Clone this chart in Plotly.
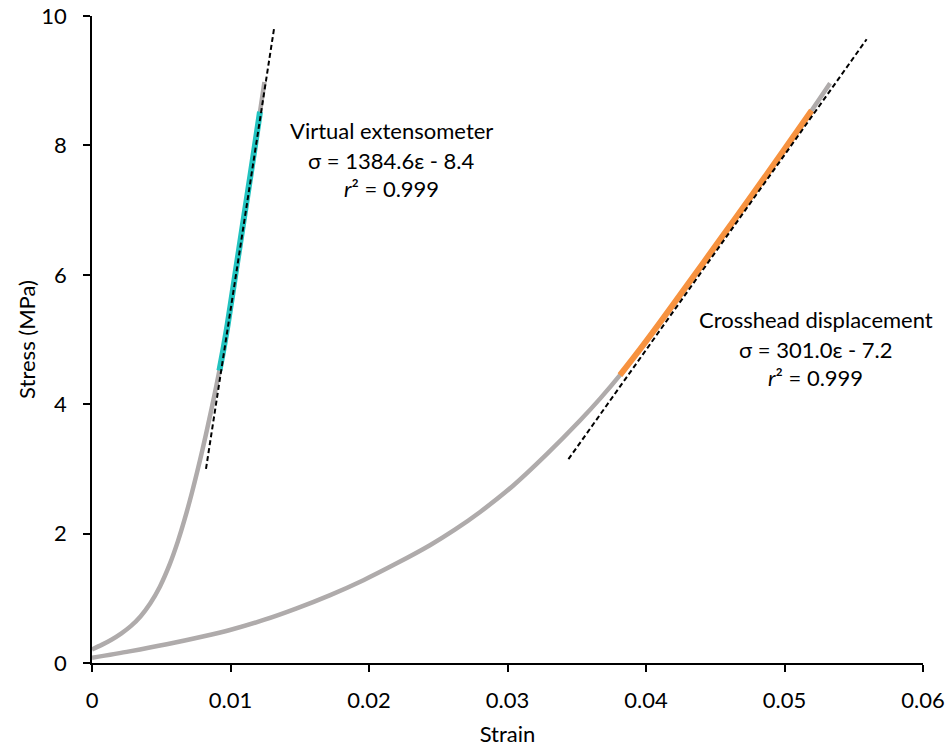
import plotly.graph_objects as go

# Virtual extensometer curve (strain, stress MPa)
ve_strain = [0, 0.0007, 0.0014, 0.0021, 0.0028, 0.0035, 0.0042, 0.0049, 0.0056, 0.0062,
             0.0067, 0.0072, 0.0076, 0.0080, 0.0084, 0.0088, 0.0092, 0.0095, 0.0098, 0.0104,
             0.0110, 0.0116, 0.01213, 0.01245]
ve_stress = [0.21, 0.28, 0.36, 0.455, 0.57, 0.72, 0.92, 1.18, 1.52, 1.88,
             2.23, 2.62, 2.96, 3.32, 3.70, 4.10, 4.52, 4.86, 5.24, 6.08,
             6.92, 7.76, 8.52, 8.98]
# linear (fitted) region of the virtual extensometer curve
ve_fit_strain = [0.0092, 0.0095, 0.0098, 0.0104, 0.0110, 0.0116, 0.01213]
ve_fit_stress = [4.52, 4.86, 5.24, 6.08, 6.92, 7.76, 8.52]
# trendline sigma = 1384.6 eps - 8.4
ve_trend_strain = [0.00823, 0.01314]
ve_trend_stress = [3.0, 9.8]

# Crosshead displacement curve
ch_strain = [0, 0.0027, 0.0054, 0.0080, 0.00996, 0.0124, 0.01478, 0.0172, 0.0196, 0.0220,
             0.0244, 0.0262, 0.0280, 0.0304, 0.0328, 0.0352, 0.0367, 0.03812, 0.0395, 0.0410,
             0.04294, 0.0454, 0.04775, 0.0500, 0.05196, 0.05329]
ch_stress = [0.08, 0.18, 0.29, 0.41, 0.51, 0.665, 0.845, 1.05, 1.28, 1.54,
             1.82, 2.06, 2.33, 2.74, 3.22, 3.74, 4.09, 4.45, 4.83, 5.26,
             5.83, 6.56, 7.26, 7.94, 8.54, 8.96]
ch_fit_strain = [0.03812, 0.0395, 0.0410, 0.04294, 0.0454, 0.04775, 0.0500, 0.05196]
ch_fit_stress = [4.45, 4.83, 5.26, 5.83, 6.56, 7.26, 7.94, 8.54]
# trendline sigma = 301.0 eps - 7.2
ch_trend_strain = [0.0344, 0.05593]
ch_trend_stress = [3.15, 9.64]

x_ticks = [0, 0.01, 0.02, 0.03, 0.04, 0.05, 0.06]
x_ticklabels = ["0", "0.01", "0.02", "0.03", "0.04", "0.05", "0.06"]
y_ticks = [0, 2, 4, 6, 8, 10]
y_ticklabels = ["0", "2", "4", "6", "8", "10"]

GREY = "#AFABAB"
CYAN = "#22C3C0"
ORANGE = "#F7923F"
FONT = "Lato"
FS = 22

fig = go.Figure()
fig.add_trace(go.Scatter(x=ch_strain, y=ch_stress, mode="lines",
                         line=dict(color=GREY, width=4.5, shape="spline", smoothing=0.8),
                         showlegend=False))
fig.add_trace(go.Scatter(x=ve_strain, y=ve_stress, mode="lines",
                         line=dict(color=GREY, width=4.5, shape="spline", smoothing=0.8),
                         showlegend=False))
fig.add_trace(go.Scatter(x=ve_fit_strain, y=ve_fit_stress, mode="lines",
                         line=dict(color=CYAN, width=6, shape="spline", smoothing=0.8),
                         showlegend=False))
fig.add_trace(go.Scatter(x=ch_fit_strain, y=ch_fit_stress, mode="lines",
                         line=dict(color=ORANGE, width=6, shape="spline", smoothing=0.8),
                         showlegend=False))
fig.add_trace(go.Scatter(x=ve_trend_strain, y=ve_trend_stress, mode="lines",
                         line=dict(color="black", width=2, dash="5px,3px"), showlegend=False))
fig.add_trace(go.Scatter(x=ch_trend_strain, y=ch_trend_stress, mode="lines",
                         line=dict(color="black", width=2, dash="5px,3px"), showlegend=False))

ann_font = dict(family=FONT, size=FS, color="black")
annos = [
    (0.02159, 8.23, "Virtual extensometer"),
    (0.02159, 7.77, "σ = 1384.6ε - 8.4"),
    (0.02159, 7.33, "<i>r</i>² = 0.999"),
    (0.05227, 5.31, "Crosshead displacement"),
    (0.05227, 4.85, "σ = 301.0ε - 7.2"),
    (0.05227, 4.42, "<i>r</i>² = 0.999"),
]
for ax_, ay_, t in annos:
    fig.add_annotation(x=ax_, y=ay_, xref="x", yref="y", text=t, showarrow=False,
                       xanchor="center", yanchor="middle", font=ann_font)

fig.update_layout(
    width=949, height=750,
    margin=dict(l=92, r=26, t=16, b=87),
    paper_bgcolor="white", plot_bgcolor="white",
    font=dict(family=FONT, size=FS, color="black"),
    xaxis=dict(range=[0, 0.06], tickvals=x_ticks, ticktext=x_ticklabels, automargin=False,
               ticklabeloverflow="allow",
               showgrid=False, zeroline=False, showline=True, linecolor="black",
               linewidth=1.5, ticks="outside", ticklen=7, tickwidth=1.5,
               tickcolor="black", ticklabelstandoff=10,
               title=dict(text="Strain", standoff=14, font=dict(family=FONT, size=FS))),
    yaxis=dict(range=[0, 10], tickvals=y_ticks, ticktext=y_ticklabels, automargin=False,
               ticklabeloverflow="allow",
               showgrid=False, zeroline=False, showline=True, linecolor="black",
               linewidth=1.5, ticks="outside", ticklen=7, tickwidth=1.5,
               tickcolor="black", ticklabelstandoff=12,
               title=dict(text="Stress (MPa)", standoff=0, font=dict(family=FONT, size=FS))),
)

# remove the default page margin so the 949x750 figure fills the window exactly
fig.write_html("out.html", config={"displayModeBar": False},
               post_script="document.body.style.margin='0';document.body.style.overflow='hidden';")
